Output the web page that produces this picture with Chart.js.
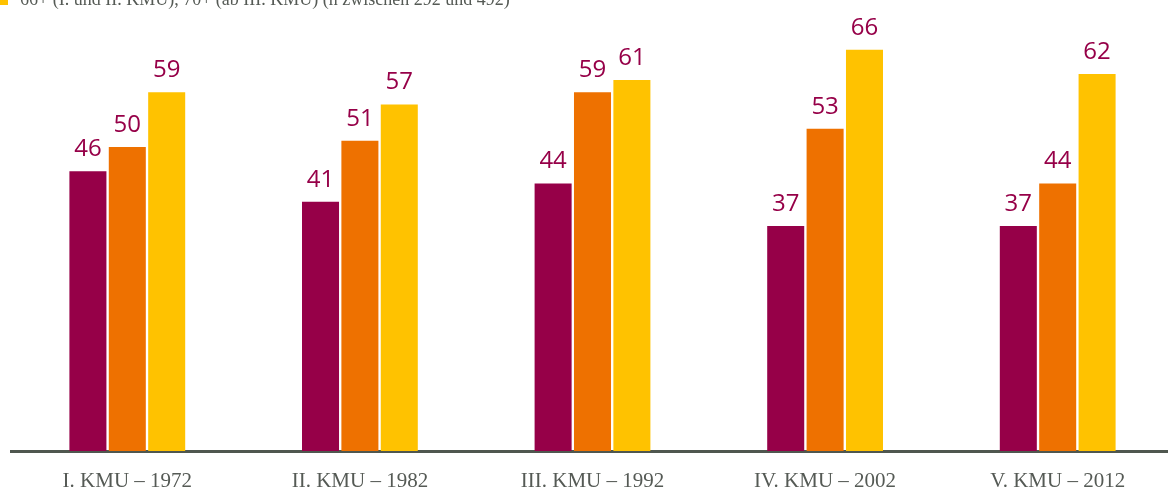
<!DOCTYPE html>
<html>
<head>
<meta charset="utf-8">
<script src="https://cdn.jsdelivr.net/npm/chart.js@4"></script>
<style>
  html, body { margin: 0; padding: 0; background: #fff; overflow: hidden; }
  #wrap { position: relative; width: 1174px; height: 489px; }
</style>
</head>
<body>
<div id="wrap"><canvas id="c" width="1174" height="489"></canvas></div>
<script>
const categories = ['I. KMU – 1972', 'II. KMU – 1982', 'III. KMU – 1992', 'IV. KMU – 2002', 'V. KMU – 2012'];
const seriesA = [46, 41, 44, 37, 37];
const seriesB = [50, 51, 59, 53, 44];
const seriesC = [59, 57, 61, 66, 62];
const seriesNames = ['', '', '66+ (I. und II. KMU), 70+ (ab III. KMU) (n zwischen 292 und 492)'];
const colors = ['#960048', '#ee7100', '#ffc200'];

const valueLabels = {
  id: 'valueLabels',
  afterDatasetsDraw(chart) {
    const ctx = chart.ctx;
    ctx.save();
    ctx.fillStyle = '#960048';
    ctx.font = '24px "Open Sans"';
    ctx.textAlign = 'center';
    ctx.textBaseline = 'alphabetic';
    chart.data.datasets.forEach((ds, i) => {
      chart.getDatasetMeta(i).data.forEach((bar, j) => {
        ctx.fillText(String(ds.data[j]), bar.x, bar.y - 15);
      });
    });
    ctx.restore();
  }
};

const topLegend = {
  id: 'topLegend',
  afterDraw(chart) {
    const ctx = chart.ctx;
    ctx.save();
    ctx.fillStyle = colors[2];
    ctx.fillRect(-2, -5, 10, 10);
    ctx.fillStyle = '#555a55';
    ctx.font = '18px "Liberation Serif"';
    ctx.textBaseline = 'alphabetic';
    ctx.textAlign = 'left';
    ctx.fillText(chart.data.datasets[2].label, 20, 5);
    ctx.restore();
  }
};

new Chart(document.getElementById('c'), {
  type: 'bar',
  data: {
    labels: categories,
    datasets: [
      { label: seriesNames[0], data: seriesA, backgroundColor: colors[0] },
      { label: seriesNames[1], data: seriesB, backgroundColor: colors[1] },
      { label: seriesNames[2], data: seriesC, backgroundColor: colors[2] }
    ]
  },
  options: {
    responsive: false,
    animation: false,
    devicePixelRatio: 1,
    layout: { padding: { left: 11, right: 0, top: 1, bottom: 0 } },
    datasets: { bar: { categoryPercentage: 0.508, barPercentage: 0.94 } },
    plugins: { legend: { display: false }, tooltip: { enabled: false } },
    scales: {
      y: { display: false, min: 0, max: 74 },
      x: {
        grid: { display: false, drawTicks: false },
        border: { display: true, color: '#4f574f', width: 3 },
        ticks: { color: '#555a55', font: { family: 'Liberation Serif', size: 21 }, padding: 18, maxRotation: 0 },
        afterFit(scale) { scale.height = 38; }
      }
    }
  },
  plugins: [valueLabels, topLegend]
});
</script>
</body>
</html>
